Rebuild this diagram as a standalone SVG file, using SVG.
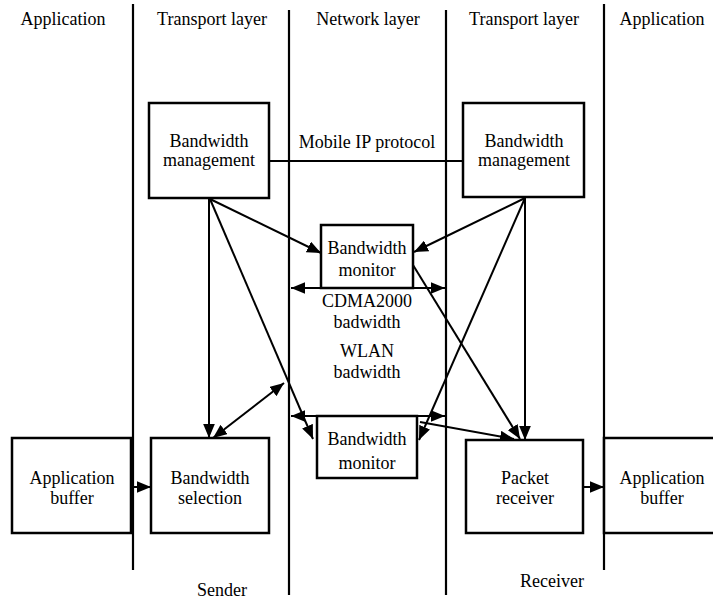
<svg xmlns="http://www.w3.org/2000/svg" width="713" height="600" viewBox="0 0 713 600">
<defs>
<marker id="a" viewBox="0 0 12 10" refX="12" refY="5" markerWidth="14" markerHeight="12" markerUnits="userSpaceOnUse" orient="auto-start-reverse"><path d="M0,0L12,5L0,10z" fill="#000"/></marker>
</defs>
<rect width="713" height="600" fill="#fff"/>
<g id="lanes" stroke="#000" stroke-width="2.2" fill="none">
<line x1="133" y1="4" x2="133" y2="570"/>
<line x1="289" y1="10" x2="289" y2="595"/>
<line x1="446" y1="10" x2="446" y2="595"/>
<line x1="604" y1="4" x2="604" y2="570"/>
</g>
<g id="headers">
<text font-family="Times New Roman" font-size="18" text-anchor="middle" x="63" y="25">Application</text>
<text font-family="Times New Roman" font-size="18" text-anchor="middle" x="212" y="25">Transport layer</text>
<text font-family="Times New Roman" font-size="18" text-anchor="middle" x="368" y="25">Network layer</text>
<text font-family="Times New Roman" font-size="18" text-anchor="middle" x="524" y="25">Transport layer</text>
<text font-family="Times New Roman" font-size="18" text-anchor="middle" x="662" y="25">Application</text>
<text font-family="Times New Roman" font-size="18" text-anchor="middle" x="222" y="596">Sender</text>
<text font-family="Times New Roman" font-size="18" text-anchor="middle" x="552" y="587">Receiver</text>
</g>
<g id="connectors" stroke="#000" stroke-width="2" fill="none">
<line x1="269" y1="161" x2="463" y2="161"/>
<line x1="209" y1="199" x2="209" y2="438" marker-end="url(#a)"/>
<line x1="210" y1="199" x2="321" y2="253" marker-end="url(#a)"/>
<line x1="210" y1="199" x2="313" y2="439" marker-end="url(#a)"/>
<line x1="213" y1="438" x2="284" y2="383" marker-start="url(#a)" marker-end="url(#a)"/>
<line x1="525" y1="198" x2="414" y2="252" marker-end="url(#a)"/>
<line x1="525" y1="198" x2="525" y2="440" marker-end="url(#a)"/>
<line x1="525" y1="198" x2="419" y2="440" marker-end="url(#a)"/>
<line x1="413" y1="265" x2="520" y2="439" marker-end="url(#a)"/>
<line x1="420" y1="422" x2="514" y2="439" marker-end="url(#a)"/>
<line x1="291" y1="288" x2="445" y2="288" marker-start="url(#a)" marker-end="url(#a)"/>
<line x1="291" y1="416" x2="445" y2="416" marker-start="url(#a)" marker-end="url(#a)"/>
<line x1="133" y1="487" x2="151" y2="487" marker-end="url(#a)"/>
<line x1="583" y1="487" x2="604" y2="487" marker-end="url(#a)"/>
</g>
<g id="bm-left">
<rect x="149" y="103" width="120" height="95" fill="#fff" stroke="#000" stroke-width="2.5"/>
<text font-family="Times New Roman" font-size="18" text-anchor="middle" x="209" y="147">Bandwidth</text>
<text font-family="Times New Roman" font-size="18" text-anchor="middle" x="209" y="166">management</text>
</g>
<g id="mobile-ip-label">
<text font-family="Times New Roman" font-size="18" text-anchor="middle" x="367" y="148">Mobile IP protocol</text>
</g>
<g id="bm-right">
<rect x="463" y="103" width="121" height="94" fill="#fff" stroke="#000" stroke-width="2.5"/>
<text font-family="Times New Roman" font-size="18" text-anchor="middle" x="524" y="147">Bandwidth</text>
<text font-family="Times New Roman" font-size="18" text-anchor="middle" x="524" y="166">management</text>
</g>
<g id="monitor-top">
<rect x="321" y="225" width="92" height="63" fill="#fff" stroke="#000" stroke-width="2.5"/>
<text font-family="Times New Roman" font-size="18" text-anchor="middle" x="367" y="254">Bandwidth</text>
<text font-family="Times New Roman" font-size="18" text-anchor="middle" x="367" y="276">monitor</text>
</g>
<g id="net-labels">
<text font-family="Times New Roman" font-size="18" text-anchor="middle" x="367" y="307">CDMA2000</text>
<text font-family="Times New Roman" font-size="18" text-anchor="middle" x="367" y="328">badwidth</text>
<text font-family="Times New Roman" font-size="18" text-anchor="middle" x="367" y="357">WLAN</text>
<text font-family="Times New Roman" font-size="18" text-anchor="middle" x="367" y="378">badwidth</text>
</g>
<g id="monitor-bottom">
<rect x="317" y="416" width="100" height="62" fill="#fff" stroke="#000" stroke-width="2.5"/>
<text font-family="Times New Roman" font-size="18" text-anchor="middle" x="367" y="445">Bandwidth</text>
<text font-family="Times New Roman" font-size="18" text-anchor="middle" x="367" y="469">monitor</text>
</g>
<g id="app-buffer-left">
<rect x="12" y="438" width="119" height="95" fill="#fff" stroke="#000" stroke-width="2.5"/>
<text font-family="Times New Roman" font-size="18" text-anchor="middle" x="72" y="484">Application</text>
<text font-family="Times New Roman" font-size="18" text-anchor="middle" x="72" y="504">buffer</text>
</g>
<g id="bw-selection">
<rect x="151" y="438" width="118" height="95" fill="#fff" stroke="#000" stroke-width="2.5"/>
<text font-family="Times New Roman" font-size="18" text-anchor="middle" x="210" y="484">Bandwidth</text>
<text font-family="Times New Roman" font-size="18" text-anchor="middle" x="210" y="504">selection</text>
</g>
<g id="packet-receiver">
<rect x="466" y="440" width="117" height="93" fill="#fff" stroke="#000" stroke-width="2.5"/>
<text font-family="Times New Roman" font-size="18" text-anchor="middle" x="525" y="484">Packet</text>
<text font-family="Times New Roman" font-size="18" text-anchor="middle" x="525" y="504">receiver</text>
</g>
<g id="app-buffer-right">
<rect x="604" y="438" width="120" height="95" fill="#fff" stroke="#000" stroke-width="2.5"/>
<text font-family="Times New Roman" font-size="18" text-anchor="middle" x="662" y="484">Application</text>
<text font-family="Times New Roman" font-size="18" text-anchor="middle" x="662" y="504">buffer</text>
</g>
</svg>
